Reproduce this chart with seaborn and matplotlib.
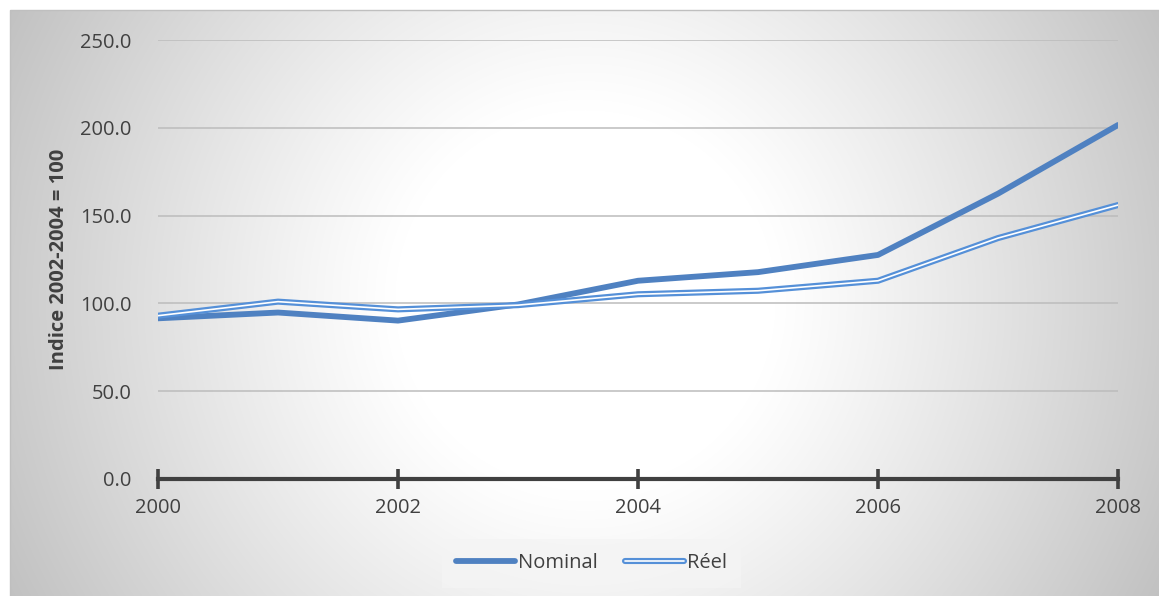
import numpy as np
import pandas as pd
import matplotlib
matplotlib.use("Agg")
import matplotlib.pyplot as plt
import matplotlib.patheffects as pe
import seaborn as sns

# Indice des prix (2002-2004 = 100)
years = [2000, 2001, 2002, 2003, 2004, 2005, 2006, 2007, 2008]
nominal = [91.5, 94.8, 90.2, 99.4, 112.9, 117.8, 127.6, 162.5, 201.6]
reel = [93.0, 101.0, 96.6, 99.0, 105.2, 107.2, 112.9, 137.2, 156.0]
series_names = ["Nominal", "Réel"]
y_ticks = [0, 50, 100, 150, 200, 250]
x_ticks = [2000, 2002, 2004, 2006, 2008]
y_label = "Indice 2002-2004 = 100"

df = pd.DataFrame({
    "year": years * 2,
    "value": nominal + reel,
    "serie": [series_names[0]] * len(years) + [series_names[1]] * len(years),
})

sns.set_theme(style="white")
plt.rcParams["font.family"] = ["Open Sans", "DejaVu Sans"]

W, H = 1159, 596
fig = plt.figure(figsize=(W / 100, H / 100), dpi=100)
fig.patch.set_facecolor("white")

# radial grey-to-white background of the chart area
bg_left, bg_top = 10, 10
bg = fig.add_axes([bg_left / W, 0, 1 - bg_left / W, 1 - bg_top / H])
bw, bh = W - bg_left, H - bg_top
xx, yy = np.meshgrid(np.arange(bw), np.arange(bh))
d = np.hypot(xx - 575, yy - 290)
t = np.clip((d - 190) / 470, 0, 1)
g = 1.0 - 0.25 * t ** 1.1
bg.imshow(np.dstack([g, g, g]), aspect="auto", extent=[0, 1, 0, 1], interpolation="bilinear")
bg.set_axis_off()
border = plt.Rectangle((bg_left / W, -0.01), 1.02, 1 - bg_top / H + 0.01, transform=fig.transFigure,
                       fill=False, edgecolor="#bfbfbf", lw=1.0, zorder=5)
fig.patches.append(border)

ax_l, ax_r, ax_t, ax_b = 158, 1118, 40, 479
ax = fig.add_axes([ax_l / W, 1 - ax_b / H, (ax_r - ax_l) / W, (ax_b - ax_t) / H])
ax.set_facecolor("none")

blue_nom = "#4f81c1"
blue_reel = "#5590d8"

sns.lineplot(data=df, x="year", y="value", hue="serie", hue_order=series_names,
             palette={series_names[0]: blue_nom, series_names[1]: "white"},
             ax=ax, legend=False)

lines = ax.get_lines()
lines[0].set_linewidth(4.2)
lines[0].set_label(series_names[0])
lines[0].set_solid_capstyle("round")
lines[0].set_zorder(3)
lines[1].set_linewidth(1.2)
lines[1].set_label(series_names[1])
lines[1].set_zorder(4)
lines[1].set_path_effects([pe.Stroke(linewidth=4.4, foreground=blue_reel), pe.Normal()])

ax.set_xlim(2000, 2008)
ax.set_ylim(0, 250)
ax.set_yticks(y_ticks)
ax.set_yticklabels([f"{v:.1f}" for v in y_ticks])
ax.set_xticks(x_ticks)
ax.set_xticklabels([str(v) for v in x_ticks])

for v in y_ticks[1:]:
    ax.axhline(v, color="#bcbcbc", lw=1.1, zorder=1)

for s in ["top", "right", "left"]:
    ax.spines[s].set_visible(False)
ax.spines["bottom"].set_color("#404040")
ax.spines["bottom"].set_linewidth(3)
ax.spines["bottom"].set_zorder(5)
ax.spines["bottom"].set_clip_on(False)

ax.tick_params(axis="x", direction="inout", length=14, width=2.6, color="#404040",
               labelsize=14.5, labelcolor="#404040", pad=7, bottom=True)
ax.tick_params(axis="y", length=0, labelsize=14.5, labelcolor="#404040", pad=19)

ax.set_xlabel("")
ax.set_ylabel(y_label, fontsize=14.5, fontweight="bold", color="#404040", labelpad=8)

leg = ax.legend(handles=lines, labels=series_names, loc="center",
                bbox_to_anchor=(((440 + 743) / 2 - ax_l) / (ax_r - ax_l),
                                (ax_b - (541 + 586) / 2) / (ax_b - ax_t)),
                ncol=2, frameon=True, fontsize=14.5, handlelength=2.9, handletextpad=0.15,
                columnspacing=1.4, borderpad=0.7, borderaxespad=0, fancybox=False)
leg.get_frame().set_facecolor("#f4f4f4")
leg.get_frame().set_alpha(0.8)
leg.get_frame().set_edgecolor("none")
for txt in leg.get_texts():
    txt.set_color("#404040")

fig.savefig("out.png", dpi=100)
